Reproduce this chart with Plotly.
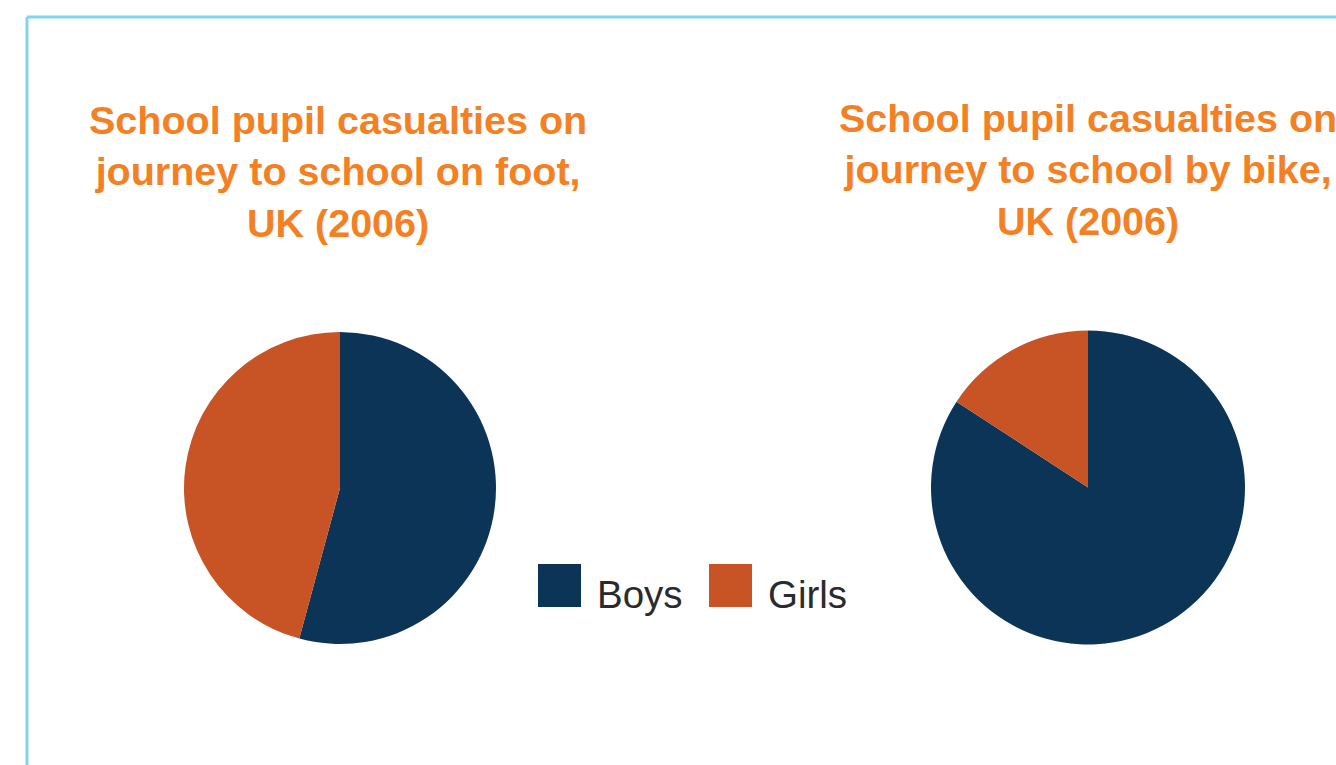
import plotly.graph_objects as go

W, H = 1336, 765

categories = ["Boys", "Girls"]
foot_values = [54.2, 45.8]
bike_values = [84.2, 15.8]
colors = ["#0B3457", "#C85426"]
titles = [
    "School pupil casualties on<br>journey to school on foot,<br>UK (2006)",
    "School pupil casualties on<br>journey to school by bike,<br>UK (2006)",
]

def px_x(x):
    return x / W

def px_y(y):
    return 1 - y / H

fig = go.Figure()
pie_boxes = [(184, 496, 332, 644), (931, 1245, 330, 645)]
for vals, (x0, x1, y0, y1) in zip([foot_values, bike_values], pie_boxes):
    fig.add_trace(go.Pie(
        labels=categories, values=vals,
        marker=dict(colors=colors, line=dict(width=0)),
        sort=False, direction="clockwise", rotation=0,
        textinfo="none", hoverinfo="label+percent",
        domain=dict(x=[px_x(x0), px_x(x1)], y=[px_y(y1), px_y(y0)]),
        showlegend=False,
    ))

annotations = []
title_pos = [(338, 172), (1088, 169)]
for t, (cx, cy) in zip(titles, title_pos):
    annotations.append(dict(
        text=t, x=px_x(cx), y=px_y(cy), xref="paper", yref="paper",
        xanchor="center", yanchor="middle", showarrow=False,
        font=dict(family="Liberation Sans, Arial, sans-serif", size=39.5,
                  color="#F38124", weight="bold"),
        align="center",
    ))

shapes = [
    dict(type="line", xref="paper", yref="paper", x0=px_x(27), x1=1.05, y0=px_y(17), y1=px_y(17),
         line=dict(color="#82D3EF", width=3)),
    dict(type="line", xref="paper", yref="paper", x0=px_x(27), x1=px_x(27), y0=px_y(17), y1=-0.05,
         line=dict(color="#82D3EF", width=3)),
]

# custom legend
leg_x = [538, 709]
for cat, col, lx in zip(categories, colors, leg_x):
    shapes.append(dict(type="rect", xref="paper", yref="paper",
                       x0=px_x(lx), x1=px_x(lx + 43), y0=px_y(607), y1=px_y(564),
                       fillcolor=col, line=dict(width=0)))
    annotations.append(dict(
        text=cat, x=px_x(lx + 57), y=px_y(594), xref="paper", yref="paper",
        xanchor="left", yanchor="middle", showarrow=False,
        font=dict(family="Liberation Sans, Arial, sans-serif", size=38.5, color="#2B2B2B"),
    ))

fig.update_layout(
    width=W, height=H, margin=dict(l=0, r=0, t=0, b=0),
    paper_bgcolor="white", plot_bgcolor="white",
    annotations=annotations, shapes=shapes,
)

fig.write_html("out.html")
